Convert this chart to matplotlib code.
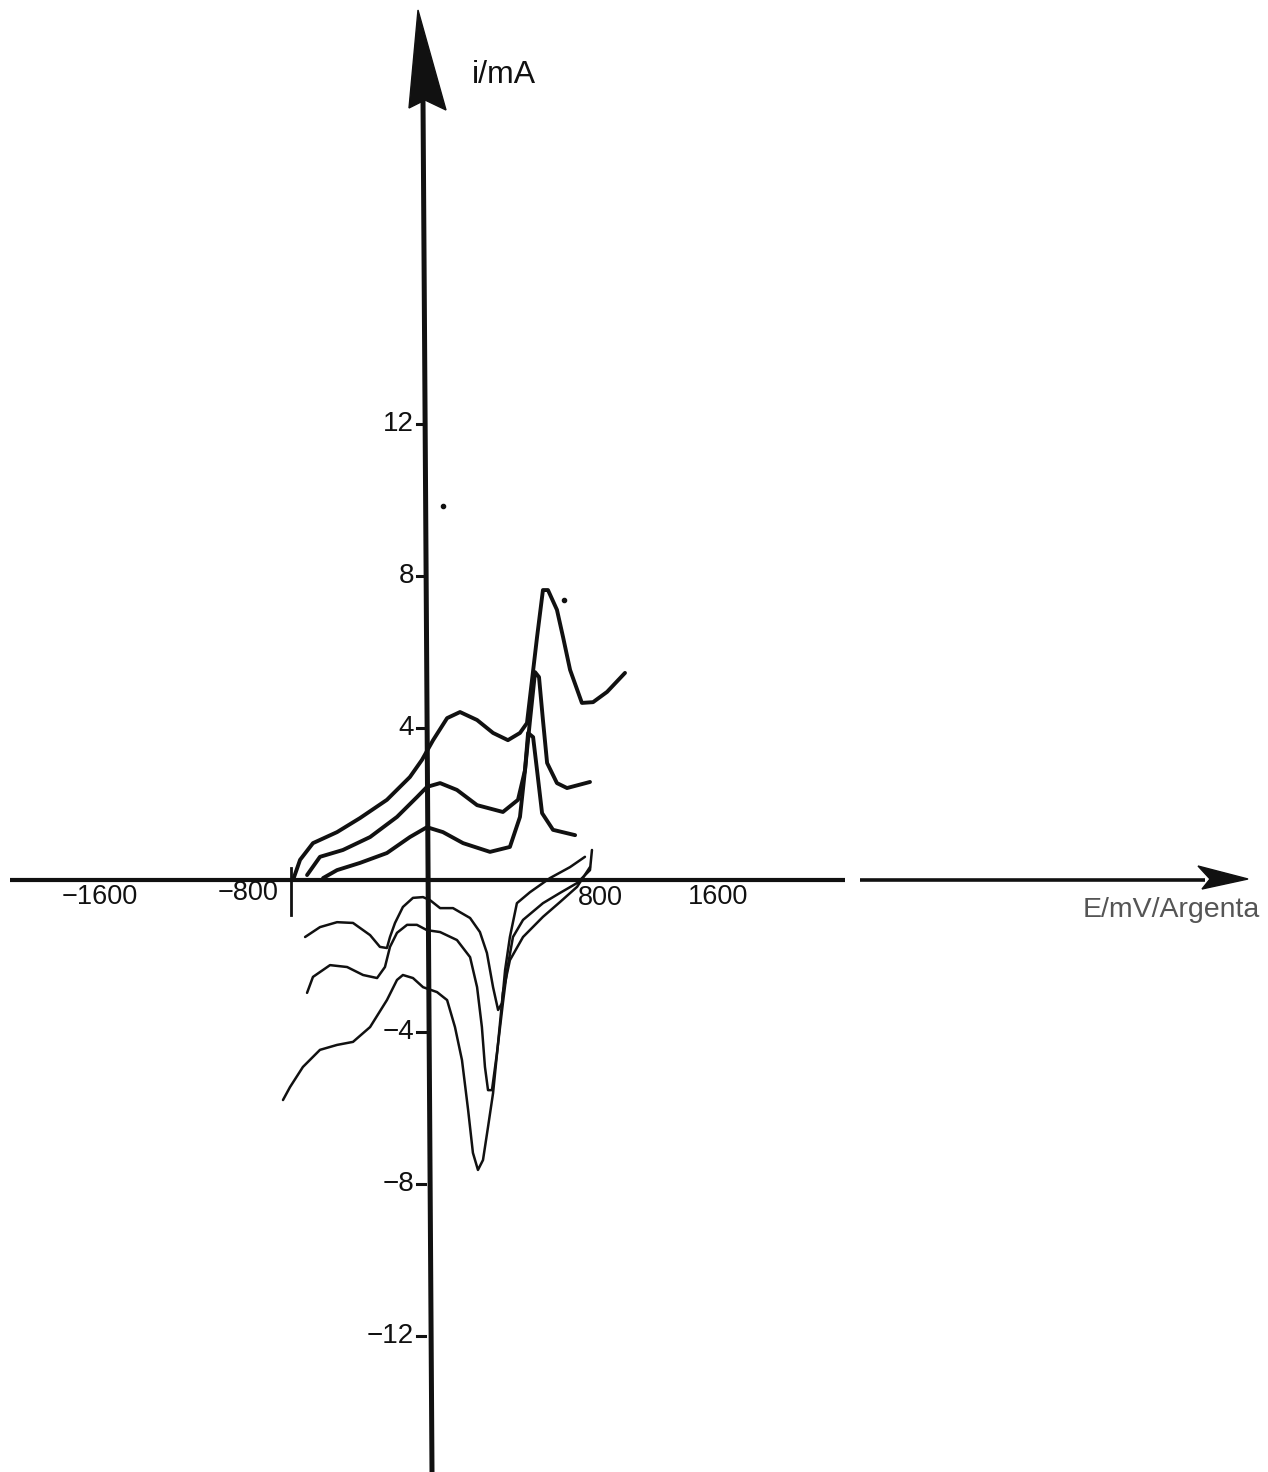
import matplotlib
matplotlib.use('Agg')
import matplotlib.pyplot as plt
import matplotlib.patches as mpatches

# ── data (E in mV vs Argenta, i in mA) ───────────────────────────────────────
# anodic sweeps (thick lines)
anod_big_E = [-603, -571, -512, -402, -297, -174, -69, -14, 37, 101, 160, 238,
              311, 379, 434, 466, 489, 512, 539, 562, 603, 631, 663, 717, 768,
              832, 914]
anod_big_i = [0.0, 0.53, 0.97, 1.26, 1.63, 2.11, 2.71, 3.16, 3.68, 4.26, 4.42,
              4.21, 3.87, 3.68, 3.87, 4.13, 5.26, 6.39, 7.63, 7.63, 7.11, 6.39,
              5.53, 4.66, 4.68, 4.95, 5.45]

anod_mid_E = [-539, -480, -375, -251, -128, -37, 9, 69, 146, 238, 356, 425,
              457, 480, 503, 521, 539, 558, 603, 649, 754]
anod_mid_i = [0.13, 0.61, 0.79, 1.13, 1.66, 2.18, 2.45, 2.55, 2.37, 1.97, 1.79,
              2.11, 2.89, 4.21, 5.47, 5.34, 4.21, 3.08, 2.55, 2.42, 2.58]

anod_small_E = [-466, -402, -297, -174, -69, 9, 82, 174, 297, 388, 434, 457,
                471, 494, 512, 535, 585, 686]
anod_small_i = [0.05, 0.26, 0.45, 0.71, 1.13, 1.39, 1.26, 0.97, 0.74, 0.87,
                1.66, 2.89, 3.87, 3.76, 2.89, 1.76, 1.32, 1.18]

# cathodic sweeps (thin lines)
cath_small_E = [-548, -480, -402, -329, -251, -206, -174, -160, -137, -101, -55,
                -9, 23, 69, 128, 206, 251, 283, 311, 334, 352, 366, 388, 420,
                480, 571, 663, 731]
cath_small_i = [-1.50, -1.24, -1.11, -1.13, -1.45, -1.76, -1.79, -1.50, -1.13,
                -0.71, -0.47, -0.45, -0.53, -0.74, -0.74, -1.00, -1.37, -1.92,
                -2.82, -3.42, -3.24, -2.37, -1.50, -0.61, -0.32, 0.05, 0.34, 0.61]

cath_mid_E = [-539, -512, -434, -356, -283, -219, -183, -160, -128, -82, -37, 9,
              69, 146, 206, 238, 260, 274, 288, 306, 329, 356, 375, 402, 448,
              539, 617, 695, 754, 763]
cath_mid_i = [-2.97, -2.55, -2.24, -2.29, -2.50, -2.58, -2.29, -1.76, -1.39,
              -1.18, -1.18, -1.32, -1.37, -1.58, -2.03, -2.82, -3.87, -4.92,
              -5.53, -5.53, -4.55, -3.24, -2.37, -1.50, -1.05, -0.61, -0.34,
              -0.08, 0.26, 0.79]

cath_big_E = [-649, -617, -558, -480, -402, -329, -251, -174, -128, -101, -55,
              -9, 55, 101, 137, 169, 197, 219, 242, 265, 288, 311, 334, 356,
              388, 448, 539, 617, 695, 754]
cath_big_i = [-5.79, -5.45, -4.92, -4.47, -4.34, -4.26, -3.87, -3.16, -2.63,
              -2.50, -2.58, -2.82, -2.95, -3.16, -3.87, -4.74, -6.05, -7.18,
              -7.63, -7.37, -6.50, -5.61, -4.29, -2.97, -2.11, -1.50, -0.97,
              -0.58, -0.18, 0.34]

y_ticks = [12, 8, 4, -4, -8, -12]
y_tick_labels = ['12', '8', '4', '\u22124', '\u22128', '\u221212']
x_tick_labels = ['\u22121600', '\u2212800', '800', '1600']

# ── drawing frame: scan is hand drawn, so a plain axes spanning the figure ────
PX_E = 4.57      # mV per pixel
PX_I = 1 / 38.0  # mA per pixel
X0, Y0 = 425, 880

def ex(px):
    return (px - X0) * PX_E

def iy(py):
    return (Y0 - py) * PX_I

fig = plt.figure(figsize=(12.68, 14.72), dpi=100)
fig.patch.set_facecolor('white')
ax = fig.add_axes([0, 0, 1, 1])
ax.set_xlim(ex(0), ex(1268))
ax.set_ylim(iy(1472), iy(0))
ax.axis('off')

INK = '#111111'
plt.rcParams['font.family'] = ['Liberation Sans', 'DejaVu Sans']

# axes lines
ax.plot([ex(10), ex(845)], [iy(880), iy(880)], color=INK, lw=3.0, solid_capstyle='butt')
ax.plot([ex(860), ex(1205)], [iy(880), iy(880)], color=INK, lw=2.6, solid_capstyle='butt')
ax.plot([ex(423), ex(432)], [iy(100), iy(1472)], color=INK, lw=3.6, solid_capstyle='butt')

# arrow heads
ax.add_patch(mpatches.Polygon([(ex(418), iy(10)), (ex(409), iy(108)),
                               (ex(425), iy(100)), (ex(446), iy(110))],
                              closed=True, facecolor=INK, edgecolor=INK, lw=1))
ax.add_patch(mpatches.Polygon([(ex(1198), iy(866)), (ex(1248), iy(879)),
                               (ex(1202), iy(889)), (ex(1210), iy(879))],
                              closed=True, facecolor=INK, edgecolor=INK, lw=1))

# y ticks and labels
for v, t in zip(y_ticks, y_tick_labels):
    ax.plot([ex(417), ex(425)], [v, v], color=INK, lw=2.2)
    ax.text(ex(414), v, t, ha='right', va='center', fontsize=20, color=INK)

# x tick labels (hand-placed on the original)
x_label_px = [100, 248, 600, 718]
x_label_py = [897, 893, 898, 897]
for px, py, t in zip(x_label_px, x_label_py, x_tick_labels):
    ax.text(ex(px), iy(py), t, ha='center', va='center', fontsize=19.5, color=INK)
ax.plot([ex(291), ex(291)], [iy(868), iy(915)], color=INK, lw=2.0)

ax.text(ex(472), iy(75), 'i/mA', ha='left', va='center', fontsize=23, color=INK)
ax.text(ex(1083), iy(910), 'E/mV/Argenta', ha='left', va='center', fontsize=20.5,
        color='#555555')

# curves
for E, i in [(anod_big_E, anod_big_i), (anod_mid_E, anod_mid_i),
             (anod_small_E, anod_small_i)]:
    ax.plot(E, i, color=INK, lw=2.8, solid_joinstyle='round', solid_capstyle='round')
for E, i in [(cath_small_E, cath_small_i), (cath_mid_E, cath_mid_i),
             (cath_big_E, cath_big_i)]:
    ax.plot(E, i, color=INK, lw=1.8, solid_joinstyle='round', solid_capstyle='round')

# specks on the scan
ax.plot([ex(443), ex(564)], [iy(506), iy(600)], 'o', color=INK, ms=3)

fig.savefig('out.png', dpi=100, facecolor='white')
